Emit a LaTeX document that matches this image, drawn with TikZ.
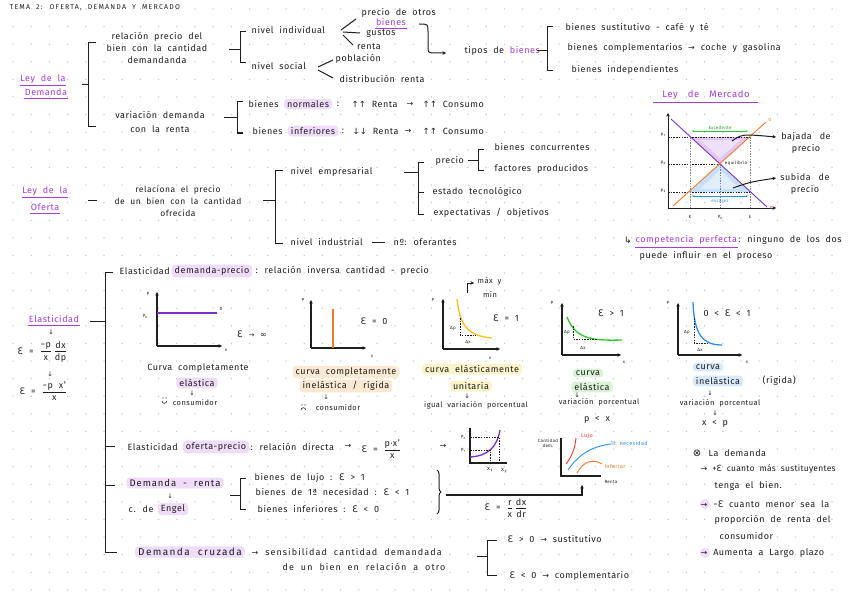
\documentclass[tikz,border=0pt]{standalone}
\usepackage{fontspec}
\usepackage{amsmath}
\setmainfont{Fira Sans}[LetterSpace=6,WordSpace=2]
\newfontfamily\sym{DejaVu Sans}
\usetikzlibrary{arrows.meta,decorations.pathreplacing}
\definecolor{ink}{HTML}{1E1E1E}
\definecolor{vio}{HTML}{A33CDD}
\definecolor{hlp}{HTML}{EEDCF8}
\definecolor{hlo}{HTML}{FCE9D2}
\definecolor{hly}{HTML}{FBF4C8}
\definecolor{hlg}{HTML}{DAF2D6}
\definecolor{hlb}{HTML}{D8E9FA}
\definecolor{dotc}{HTML}{C4C4C4}
\definecolor{org}{HTML}{F27A2C}
\definecolor{grn}{HTML}{2FC52F}
\definecolor{blu}{HTML}{2A8DF2}
\definecolor{yel}{HTML}{F6C21A}
\definecolor{myred}{HTML}{F03535}
\definecolor{purl}{HTML}{7D30C8}
\definecolor{trip}{HTML}{E3C8F6}
\definecolor{trib}{HTML}{C7E0FA}
\newcommand\eps{{\sym Ɛ}}
\newcommand\myar{{\sym\fontsize{8}{8}\selectfont →}}
\newcommand\myup{{\sym\fontsize{8.5}{8}\selectfont ↑↑}}
\newcommand\mydn{{\sym\fontsize{8.5}{8}\selectfont ↓↓}}
\newcommand\hfr[2]{$\genfrac{}{}{0.6pt}{0}{\text{#1}}{\text{#2}}$}
\newcommand\undl[1]{\draw[vio,line width=0.7pt] ([yshift=-1.8pt]#1.south west) -- ([yshift=-1.8pt]#1.south east);}
\tikzset{
  t/.style={font=\fontsize{9}{12}\selectfont, inner sep=0.5pt, text=ink},
  tl/.style={t, anchor=west},
  ts/.style={font=\fontsize{7.5}{9}\selectfont, inner sep=0.5pt, text=ink},
  tsl/.style={ts, anchor=west},
  tny/.style={font=\fontsize{4.5}{5}\selectfont, inner sep=0.3pt, text=ink},
  vt/.style={t, text=vio},
  hl/.style={t, fill=#1, rounded corners=3.5pt, inner xsep=3pt, inner ysep=1.8pt},
  ln/.style={draw=ink, line width=1pt},
  dsh/.style={draw=ink, dash pattern=on 1.5pt off 1.2pt, line width=0.5pt},
  ax/.style={draw=ink, line width=1.2pt, -{Stealth[length=3.5pt,width=3.5pt]}},
  arr/.style={-{Stealth[length=3.5pt,width=3.5pt]}},
  dn/.style={font=\sym\fontsize{6.5}{6}\selectfont, inner sep=0pt, text=ink},
}
\begin{document}
\begin{tikzpicture}[x=1pt,y=-1pt]
\useasboundingbox[fill=white] (0,0) rectangle (848,599);
\foreach \i in {0,...,46}{\foreach \j in {0,...,33}{\fill[dotc] ({13+18.2*\i},{9+17.6*\j}) circle (0.75pt);}}

% title
\node[tl, font=\fontsize{7}{8}\selectfont\addfontfeatures{LetterSpace=17}] (title) at (9,8) {TEMA 2: OFERTA, DEMANDA Y MERCADO};

% ---------- Ley de la Demanda
\node[vt] (ld1) at (43,79) {Ley de la}; \undl{ld1}
\node[vt] (ld2) at (46,92) {Demanda}; \undl{ld2}
\draw[ln] (82,85) -- (88,85);
\draw[ln] (96,43) -- (88,43) -- (88,127) -- (96,127);
\node[t, align=center] (rel) at (157,48) {relación precio del\\bien con la cantidad\\demandanda};
\draw[ln] (229,50) -- (240,50);
\draw[ln] (246,32) -- (240,32) -- (240,63) -- (246,63);
\node[tl] (ni) at (251,30) {nivel individual};
\node[tl] (ns) at (251,66) {nivel social};
\draw[ln] (341,30) -- (356,19);
\draw[ln] (343,32) -- (360,33);
\draw[ln] (343,35) -- (353,45);
\node[tl] (po) at (361,13) {precio de otros};
\node[vt] (pob) at (391,22) {bienes}; \undl{pob}
\node[t] (gu) at (381,34) {gustos};
\node[t] (re) at (369,47) {renta};
\draw[ln] (318,67) -- (333,60);
\draw[ln] (318,70) -- (333,78);
\node[tl] (pobl) at (335,59) {población};
\node[tl] (dr) at (339,79) {distribución renta};
\draw[ln,arr] (419,24) .. controls (428,24) .. (428,32) -- (428,46) .. controls (428,53) .. (436,53) -- (446,53);
\node[tl] (tb) at (464,51) {tipos de \textcolor{vio}{bienes}};
\draw[ln] (537,51) -- (547,51);
\draw[ln] (553,27) -- (547,27) -- (547,71) -- (553,71);
\node[tl] (b1) at (565,28) {bienes sustitutivo - café y té};
\node[tl] (b2) at (567,48) {bienes complementarios \myar\ coche y gasolina};
\node[tl] (b3) at (571,70) {bienes independientes};

\node[t, align=center] (vr) at (160,122) {variación demanda\\[2pt]con la renta};
\draw[ln] (224,118) -- (237,118);
\draw[ln] (243,102) -- (237,102) -- (237,133) -- (243,133);
\node[tl] (bn) at (248,104) {bienes};
\node[hl=hlp] (bnh) at (308,104) {normales};
\node[t] (bnc) at (338,104) {:};
\node[tl] (bnr) at (351,104) {\myup\ Renta};
\node[t] (bna) at (410,104) {\myar};
\node[tl] (bnk) at (422,104) {\myup\ Consumo};
\node[tl] (bi) at (252,131) {bienes};
\node[hl=hlp] (bih) at (313,131) {inferiores};
\node[t] (bic) at (343,131) {:};
\node[tl] (bir) at (352,131) {\mydn\ Renta};
\node[t] (bia) at (408,131) {\myar};
\node[tl] (bik) at (422,131) {\myup\ Consumo};

% ---------- Ley de Mercado
\node[vt, font=\fontsize{9.5}{12}\selectfont] (lm) at (706,95) {Ley\hspace{10pt}de\hspace{10pt}Mercado};
\draw[vio, line width=0.8pt] (653,102) -- (758,102);
\fill[trip] (690,137) -- (750,137) -- (720,164) -- cycle;
\fill[trip!55!white] (700,140) -- (740,140) -- (720,158) -- cycle;
\fill[trib] (689,192) -- (751,192) -- (720,164) -- cycle;
\fill[trib!55!white] (700,189) -- (740,189) -- (720,170) -- cycle;
\draw[dsh] (668,137) -- (750,137);
\draw[dsh] (668,164) -- (720,164);
\draw[dsh] (668,192) -- (750,192);
\draw[dsh, draw=gray] (690,137) -- (690,208);
\draw[dsh, draw=gray] (720,164) -- (720,208);
\draw[dsh, draw=gray] (750,137) -- (750,208);
\draw[ax, line width=0.7pt] (668,208) -- (668,113);
\draw[ax, line width=0.7pt] (668,208) -- (776,208);
\draw[purl, line width=0.9pt] (671,119) -- (767,207);
\draw[org, line width=0.9pt] (673,206) -- (766,122);
\draw[grn, line width=0.5pt, {Stealth[length=2pt]}-{Stealth[length=2pt]}] (692,131) -- (748,131);
\node[tny, text=grn!80!black] (exc) at (720,128) {Excedente};
\draw[blu, line width=0.7pt, {Stealth[length=2pt]}-{Stealth[length=2pt]}] (692,196) -- (748,196);
\node[tny, text=blu] (esc) at (720,201) {escasez};
\node[tny] (eq) at (736,163) {equilibrio};
\node[tny] (yp1) at (663,135) {p₁};
\node[tny] (yp0) at (663,163) {p₀};
\node[tny] (yp2) at (663,191) {p₂};
\node[tny] (xk) at (690,217) {K};
\node[tny] (xp) at (720,217) {P₀};
\node[tny] (xe) at (750,217) {E};
\node[tny, text=org] (lo) at (770,120) {O};
\node[tny, text=vio] (ldd) at (771,208) {D};
\node[t, align=center] (baj) at (806,143) {bajada\hspace{8pt}de\\precio};
\node[t, align=center] (sub) at (805,184) {subida\hspace{8pt}de\\precio};
\draw[ln, arr] (732,141) .. controls (742,134) .. (776,137);
\draw[ln, arr] (733,188) .. controls (750,182) .. (776,178);
\node[t] (hook) at (628,240) {{\sym\fontsize{9}{8}\selectfont ↳}};
\node[tl, text=vio] (cp1) at (635,240) {competencia perfecta}; \undl{cp1}
\node[tl] (cp2) at (cp1.east) {: ninguno de los dos};
\node[tl] (cp3) at (639,256) {puede influir en el proceso};

% ---------- Ley de la Oferta
\node[vt] (lo1) at (45,191) {Ley de la}; \undl{lo1}
\node[vt] (lo2) at (45,207) {Oferta}; \undl{lo2}
\draw[ln] (88,200) -- (97,200);
\node[t, align=center, font=\fontsize{8.5}{12}\selectfont] (rp) at (178,201) {relaciona el precio\\de un bien con la cantidad\\ofrecida};
\draw[ln] (263,200) -- (275,200);
\draw[ln] (283,170) -- (275,170) -- (275,243) -- (283,243);
\node[tl] (ne) at (290,172) {nivel empresarial};
\node[tl] (nind) at (290,242) {nivel industrial};
\draw[ln] (372,242) -- (385,242);
\node[tl] (nof) at (393,242) {nº: oferantes};
\draw[ln] (404,172) -- (418,172);
\draw[ln] (424,162) -- (418,162) -- (418,214) -- (424,214);
\draw[ln] (418,192) -- (424,192);
\node[tl] (pr) at (435,161) {precio};
\draw[ln] (468,160) -- (478,160);
\draw[ln] (484,149) -- (478,149) -- (478,170) -- (484,170);
\node[tl] (bc) at (494,147) {bienes concurrentes};
\node[tl] (fp) at (494,169) {factores producidos};
\node[tl] (et) at (432,192) {estado tecnológico};
\node[tl] (eo) at (433,213) {expectativas / objetivos};

% ---------- Elasticidad
\node[vt] (el) at (54,319) {Elasticidad}; \undl{el}
\node[dn] (ea1) at (51,332) {↓};
\node[tl] (ef1) at (17,352) {\eps\ = \hfr{−p}{x}\,\hfr{dx}{dp}};
\node[dn] (ea2) at (50,374) {↓};
\node[tl] (ef2) at (19,391) {\eps\ = \hfr{−p x'}{x}};
\draw[ln] (90,321) -- (105,321);
\draw[ln] (113,272) -- (105,272) -- (105,552) -- (117,552);
\draw[ln] (105,446) -- (115,446);
\draw[ln] (105,485) -- (115,485);

\node[tl] (edp) at (119,271) {Elasticidad};
\node[hl=hlp] (edph) at (212,271) {demanda-precio};
\node[tl] (edpr) at (255,271) {: relación inversa cantidad - precio};

% graph 1
\draw[ax] (157,346) -- (157,292);
\draw[ax] (157,346) -- (222,346);
\node[tny] (g1p) at (148,294) {P};
\node[tny] (g1p0) at (145,316) {P₀};
\draw[purl, line width=1.3pt] (157,313) -- (217,313);
\node[tny] (g1d) at (221,309) {D};
\node[tny] (g1x) at (226,350) {x};
\node[t] (g1e) at (252,334) {\eps\ {\sym\fontsize{7}{7}\selectfont →} {\sym\fontsize{8}{8}\selectfont ∞}};
\node[t] (g1t1) at (198,368) {Curva completamente};
\node[hl=hlp] (g1t2) at (197,383) {elástica};
\node[dn] (g1a) at (192,393) {↓};
\node[ts] (g1c) at (195,403) {consumidor};
\draw[ln, line width=0.6pt] (162,401) arc[start angle=180, end angle=0, radius=2.3];
\fill[ink] (163,398) circle (0.6pt) (166,398) circle (0.6pt);

% graph 2
\draw[ax] (311,348) -- (311,300);
\draw[ax] (311,348) -- (366,348);
\node[tny] (g2p) at (303,300) {P};
\draw[org, line width=1.3pt] (333,309) -- (333,348);
\node[t] (g2e) at (374,321) {\eps\ = 0};
\node[tny] (g2x) at (372,356) {x};
\node[hl=hlo] (g2t1) at (346,372) {curva completamente};
\node[hl=hlo] (g2t2) at (346,386) {inelástica / rígida};
\node[dn] (g2a) at (326,397) {↓};
\node[ts] (g2c) at (338,408) {consumidor};
\draw[ln, line width=0.6pt] (301,410) arc[start angle=180, end angle=360, radius=2.3];
\fill[ink] (302,405) circle (0.6pt) (305,405) circle (0.6pt);

% graph 3
\draw[ax] (443,349) -- (443,299);
\draw[ax] (443,349) -- (500,349);
\node[tny] (g3p) at (433,300) {P};
\draw[yel, line width=1.3pt] (457,299) .. controls (460,328) and (470,336) .. (492,338);
\draw[dsh] (460,318) -- (460,335) -- (476,335);
\node[tny] (g3dp) at (453,328) {Δp};
\node[tny] (g3dx) at (468,342) {Δx};
\node[t] (g3e) at (506,318) {\eps\ = 1};
\node[tny] (g3x) at (490,358) {x};
\draw[ln, line width=0.7pt, arr] (467,293) -- (467,283) -- (474,283);
\node[tsl] (g3m1) at (477,281) {máx y};
\node[ts] (g3m2) at (490,294) {mín};
\node[hl=hly] (g3t1) at (472,369) {curva elásticamente};
\node[hl=hly] (g3t2) at (471,386) {unitaria};
\node[dn] (g3a) at (467,396) {↓};
\node[ts] (g3c) at (476,405) {igual variación porcentual};

% graph 4
\draw[ax] (562,355) -- (562,303);
\draw[ax] (562,355) -- (621,355);
\node[tny] (g4p) at (552,303) {P};
\draw[grn, line width=1.3pt] (567,317) .. controls (575,338) and (590,341) .. (622,340);
\draw[dsh] (573,326) -- (573,339) -- (597,339);
\node[tny] (g4dp) at (567,332) {Δp};
\node[tny] (g4dx) at (583,348) {Δx};
\node[t] (g4e) at (611,313) {\eps\ > 1};
\node[tny] (g4x) at (624,362) {x};
\node[hl=hlg] (g4t1) at (588,373) {curva};
\node[hl=hlg] (g4t2) at (592,387) {elástica};
\node[dn] (g4a) at (577,395) {↓};
\node[ts] (g4c) at (599,402) {variación porcentual};
\node[t] (g4r) at (597,420) {p < x};

% graph 5
\draw[ax] (678,355) -- (678,303);
\draw[ax] (678,355) -- (742,355);
\node[tny] (g5p) at (668,303) {P};
\draw[blu, line width=1.3pt] (693,302) .. controls (694,335) and (703,345) .. (722,345);
\draw[dsh] (694,318) -- (694,343) -- (708,343);
\node[tny] (g5dp) at (687,332) {Δp};
\node[tny] (g5dx) at (700,350) {Δx};
\node[t] (g5e) at (727,313) {0 < \eps\ < 1};
\node[tny] (g5x) at (747,362) {x};
\node[hl=hlb] (g5t1) at (708,367) {curva};
\node[hl=hlb] (g5t2) at (718,381) {inelástica};
\node[tl] (g5t3) at (762,381) {(rígida)};
\node[dn] (g5a) at (710,393) {↓};
\node[ts] (g5c) at (720,403) {variación porcentual};
\node[dn] (g5a2) at (715,413) {↓};
\node[t] (g5r) at (715,424) {x < p};

% ---------- Elasticidad oferta-precio
\node[tl] (eop) at (127,447) {Elasticidad};
\node[hl=hlp] (eoph) at (216,447) {oferta-precio};
\node[tl] (eopr) at (250,447) {: relación directa};
\node[t] (eopa) at (348,446) {\myar};
\node[tl] (eopf) at (361,449) {\eps\ = \hfr{p·x'}{x}};
\node[t] (eopa2) at (443,446) {\myar};
\draw[ln, line width=1.1pt] (470,428) -- (470,463) -- (507,463);
\draw[purl, line width=1.3pt] (470,457) .. controls (488,456) and (497,447) .. (500,430);
\draw[dsh] (470,437) -- (499,437) -- (499,463);
\draw[dsh] (470,450) -- (490,450) -- (490,463);
\node[tny] (op2) at (463,437) {P₂};
\node[tny] (op1) at (463,450) {P₁};
\node[tny, font=\fontsize{6}{6}\selectfont] (ox1) at (490,470) {x₁};
\node[tny, font=\fontsize{6}{6}\selectfont] (ox2) at (504,471) {x₂};

% ---------- Demanda-renta
\node[hl=hlp, font=\fontsize{9.5}{11}\selectfont\addfontfeatures{LetterSpace=10}] (drh) at (175,483) {Demanda - renta};
\node[dn] (dra) at (170,496) {↓};
\node[tl] (cde) at (128,509) {c. de};
\node[hl=hlp] (eng) at (173,509) {Engel};
\draw[ln] (230,495) -- (240,495);
\draw[ln] (246,478) -- (240,478) -- (240,509) -- (246,509);
\node[tl] (bl) at (254,478) {bienes de lujo : \eps\ > 1};
\node[tl] (bnn) at (255,492) {bienes de 1ª necesidad : \eps\ < 1};
\node[tl] (bif) at (257,509) {bienes inferiores : \eps\ < 0};
\draw[ln, decorate, decoration={brace, amplitude=4pt}] (437,470) -- (437,514);
\draw[ln, line width=1.4pt, arr] (446,495) -- (582,495) -- (582,485);
\node[tl] (eng2) at (484,508) {\eps\ = \hfr{r}{x}\,\hfr{dx}{dr}};

% Engel graph
\draw[ln, line width=1.1pt] (561,438) -- (561,476) -- (601,476);
\node[tny, align=center] (cdm) at (548,443) {Cantidad\\dem.};
\node[tny] (rnt) at (611,482) {Renta};
\draw[myred, line width=0.9pt] (566,464) .. controls (573,455) and (575,447) .. (576,438);
\node[tny, text=myred, font=\fontsize{5.5}{6}\selectfont] (luj) at (587,436) {Lujo};
\draw[blu, line width=0.9pt] (568,470) .. controls (580,452) and (595,446) .. (611,444);
\node[tny, text=blu, anchor=west, font=\fontsize{5.5}{6}\selectfont] (nec) at (610,443) {1ª necesidad};
\draw[org, line width=0.9pt] (577,473) .. controls (583,462) and (592,458) .. (602,464);
\node[tny, text=org, anchor=west, font=\fontsize{5.5}{6}\selectfont] (inf) at (604,466) {Inferior};

% ---------- Demanda cruzada
\node[hl=hlp, font=\fontsize{10}{11}\selectfont\addfontfeatures{LetterSpace=14}] (dc) at (190,552) {Demanda cruzada};
\node[tl, font=\fontsize{9}{11}\selectfont\addfontfeatures{LetterSpace=12}] (dcs) at (251,552) {\myar\ sensibilidad cantidad demandada};
\node[tl, font=\fontsize{9}{11}\selectfont\addfontfeatures{LetterSpace=12}] (dcs2) at (282,567) {de un bien en relación a otro};
\draw[ln] (477,556) -- (487,556);
\draw[ln] (497,540) -- (487,540) -- (487,575) -- (497,575);
\node[tl] (cr1) at (507,539) {\eps\ > 0 \myar\ sustitutivo};
\node[tl] (cr2) at (509,576) {\eps\ < 0 \myar\ complementario};

% ---------- notes
\node[t] (ox) at (697,453) {{\sym\fontsize{10}{10}\selectfont ⊗}};
\node[tl] (nd) at (708,453) {La demanda};
\node[tl, font=\fontsize{8.5}{11}\selectfont\addfontfeatures{LetterSpace=3}] (n1) at (700,469) {\myar\ +\eps\ cuanto más sustituyentes};
\node[tl] (n1b) at (714,486) {tenga el bien.};
\fill[hlp] (705,504) circle (5pt);
\node[tl] (n2) at (700,504) {\myar\ −\eps\ cuanto menor sea la};
\node[tl] (n2b) at (714,520) {proporción de renta del};
\node[tl] (n2c) at (719,536) {consumidor};
\fill[hlp] (705,553) circle (5pt);
\node[tl] (n3) at (700,553) {\myar\ Aumenta a Largo plazo};
\end{tikzpicture}
\end{document}
